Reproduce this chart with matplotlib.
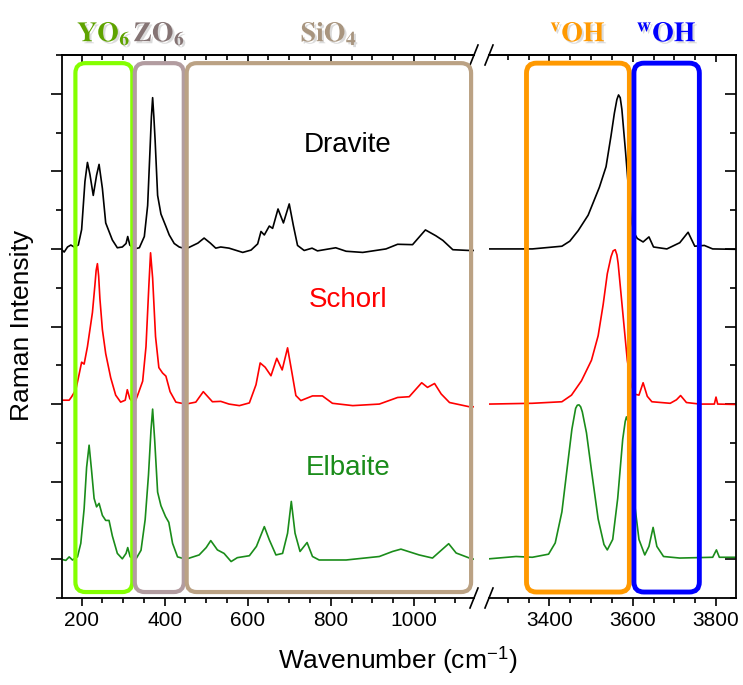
import numpy as np
import matplotlib
matplotlib.use('Agg')
import matplotlib.pyplot as plt
import matplotlib.patheffects as pe
from matplotlib.patches import FancyBboxPatch
from matplotlib.lines import Line2D
from matplotlib.ticker import MultipleLocator
import matplotlib.transforms as mtransforms

plt.rcParams['font.family'] = ['Liberation Sans', 'DejaVu Sans']
plt.rcParams['mathtext.fontset'] = 'stix'

# ---------------- datos ----------------
# Dravite (negro), rango bajo
drav_lo_x = [150, 158, 166, 174, 182, 192, 200, 208, 214, 220, 228, 236, 242, 250, 258, 266, 274, 286,
             298, 307, 311, 316, 327, 339, 351, 359, 365, 368, 371, 374, 377, 383, 391, 403, 411, 423,
             435, 451, 480, 495, 510, 523, 535, 555, 588, 608, 624, 632, 640, 652, 660, 673, 686, 700,
             710, 720, 736, 755, 768, 812, 837, 877, 933, 961, 997, 1028, 1053, 1070, 1094, 1134, 1145]
drav_lo_y = [9.0, 8.92, 9.05, 9.1, 9.05, 9.1, 9.5, 10.74, 11.23, 10.92, 10.38, 10.9, 11.18, 10.56, 9.67,
             9.45, 9.23, 9.03, 9.05, 9.14, 9.32, 9.1, 9.0, 9.03, 9.32, 10.12, 11.63, 12.4, 12.9, 12.4,
             11.8, 10.38, 9.9, 9.58, 9.36, 9.14, 9.05, 9.0, 9.15, 9.28, 9.15, 9.02, 9.05, 9.02, 8.91,
             8.97, 9.13, 9.45, 9.36, 9.59, 9.53, 10.03, 9.67, 10.16, 9.6, 9.09, 8.96, 9.02, 8.95, 9.03,
             8.94, 8.91, 9.0, 9.12, 9.11, 9.49, 9.34, 9.22, 8.98, 8.96, 8.96]
# Dravite, rango OH
drav_hi_x = [3255, 3359, 3430, 3449, 3469, 3493, 3520, 3536, 3548, 3556, 3562, 3566, 3570, 3574, 3578,
             3583, 3591, 3597, 3604, 3611, 3625, 3639, 3650, 3682, 3713, 3733, 3749, 3772, 3792, 3848]
drav_hi_y = [9.0, 9.0, 9.07, 9.2, 9.47, 9.87, 10.59, 11.12, 11.92, 12.5, 12.85, 12.97, 12.9, 12.6, 12.1,
             11.48, 10.41, 9.7, 9.4, 9.27, 9.18, 9.31, 9.05, 9.0, 9.16, 9.43, 9.07, 9.09, 9.0, 8.99]

# Schorl (rojo)
scho_lo_x = [150, 170, 176, 186, 194, 200, 206, 214, 226, 232, 235, 238, 241, 244, 250, 258, 270, 282,
             294, 305, 310, 316, 327, 335, 347, 355, 362, 366, 371, 378, 386, 395, 403, 413, 427, 451,
             475, 485, 493, 515, 535, 555, 580, 604, 620, 630, 642, 656, 670, 683, 696, 707, 716, 728,
             756, 780, 804, 853, 917, 961, 989, 1019, 1033, 1050, 1066, 1086, 1134, 1145]
scho_lo_y = [5.1, 5.1, 5.19, 5.37, 5.77, 6.08, 6.03, 6.48, 7.36, 8.07, 8.45, 8.62, 8.3, 7.72, 6.92, 6.3,
             5.68, 5.23, 5.05, 5.1, 5.37, 5.14, 5.01, 5.23, 5.59, 6.48, 8.07, 8.9, 8.25, 6.74, 5.94, 5.8,
             5.72, 5.32, 5.05, 5.0, 5.05, 5.2, 5.32, 5.06, 5.07, 5.0, 4.96, 5.03, 5.5, 6.06, 5.95, 5.73,
             6.18, 5.88, 6.45, 5.78, 5.22, 5.09, 5.21, 5.21, 5.02, 4.96, 5.0, 5.17, 5.19, 5.55, 5.43,
             5.53, 5.26, 5.04, 4.93, 4.93]
scho_hi_x = [3255, 3359, 3430, 3453, 3477, 3501, 3517, 3529, 3539, 3548, 3553, 3558, 3562, 3565, 3576,
             3587, 3597, 3607, 3615, 3625, 3635, 3646, 3690, 3705, 3715, 3729, 3761, 3796, 3800, 3804, 3848]
scho_hi_y = [5.0, 5.02, 5.06, 5.23, 5.6, 6.13, 6.76, 7.56, 8.36, 8.8, 8.95, 8.98, 8.85, 8.63, 7.38,
             6.13, 5.46, 5.25, 5.23, 5.55, 5.2, 5.06, 5.02, 5.11, 5.22, 5.04, 5.0, 5.0, 5.18, 5.0, 4.99]

# Elbaite (verde)
elba_lo_x = [150, 162, 170, 178, 190, 198, 206, 212, 218, 224, 230, 236, 242, 250, 258, 266, 274, 286,
             298, 307, 311, 317, 331, 343, 353, 361, 367, 371, 376, 383, 391, 402, 410, 419, 431, 451,
             483, 500, 511, 527, 543, 560, 575, 604, 621, 640, 652, 668, 684, 696, 705, 714, 726, 743,
             756, 772, 837, 917, 949, 969, 1013, 1045, 1084, 1102, 1134, 1145]
elba_lo_y = [1.0, 0.97, 1.06, 0.98, 1.06, 1.41, 2.3, 3.37, 3.94, 3.28, 2.57, 2.35, 2.44, 2.13, 2.0, 2.0,
             1.6, 1.15, 1.01, 1.15, 1.3, 1.06, 1.01, 1.23, 2.02, 3.17, 4.32, 4.87, 4.06, 2.73, 2.38, 2.1,
             1.95, 1.41, 1.06, 1.0, 1.11, 1.3, 1.48, 1.24, 1.15, 0.94, 1.04, 1.09, 1.33, 1.84, 1.5, 1.11,
             1.15, 1.67, 2.49, 1.67, 1.2, 1.43, 1.07, 0.98, 0.98, 1.07, 1.2, 1.26, 1.11, 1.03, 1.4, 1.16,
             1.03, 1.0]
elba_hi_x = [3255, 3320, 3359, 3398, 3414, 3430, 3442, 3454, 3463, 3467, 3471, 3475, 3479, 3489, 3501,
             3517, 3531, 3539, 3552, 3564, 3576, 3582, 3585, 3589, 3593, 3603, 3615, 3629, 3639, 3649,
             3658, 3674, 3713, 3792, 3801, 3808, 3848]
elba_hi_y = [1.01, 1.07, 1.05, 1.13, 1.42, 2.22, 3.29, 4.35, 4.89, 4.97, 4.98, 4.93, 4.8, 4.26, 3.29,
             2.04, 1.38, 1.24, 1.51, 2.57, 4.09, 4.55, 4.67, 4.55, 4.17, 2.57, 1.51, 1.11, 1.33, 1.82,
             1.33, 1.07, 1.03, 1.05, 1.24, 1.05, 1.05]

# regiones de asignacion (cm-1)
regiones = ['YO6', 'ZO6', 'SiO4', 'vOH', 'wOH']
reg_lim = [(185, 322), (328, 446), (453, 1138), (3345, 3592), (3603, 3760)]
reg_txt = [r'$\mathbf{YO_6}$', r'$\mathbf{ZO_6}$', r'$\mathbf{SiO_4}$',
           r'$^{\mathbf{v}}\mathbf{OH}$', r'$^{\mathbf{w}}\mathbf{OH}$']
reg_col = ['#84FF00', '#B29CA0', '#BBA284', '#FF9900', '#0000FF']
reg_txtcol = ['#5FA300', '#857474', '#A8957F', '#FF9900', '#0000FF']

nombres = ['Dravite', 'Schorl', 'Elbaite']
colores = ['black', '#FF0000', '#1A8C1A']
pos_nombre = [(841, 11.68), (841, 7.68), (841, 3.35)]

# ---------------- figura ----------------
W, H = 743, 685
fig = plt.figure(figsize=(W / 100, H / 100), dpi=100)
ax1 = fig.add_axes([61.7 / W, 87 / H, 412.3 / W, 543 / H])
ax2 = fig.add_axes([489 / W, 87 / H, 247 / W, 543 / H])

series = [(drav_lo_x, drav_lo_y, drav_hi_x, drav_hi_y),
          (scho_lo_x, scho_lo_y, scho_hi_x, scho_hi_y),
          (elba_lo_x, elba_lo_y, elba_hi_x, elba_hi_y)]
for (xl, yl, xh, yh), c in zip(series, colores):
    ax1.plot(xl, yl, color=c, lw=1.2)
    ax2.plot(xh, yh, color=c, lw=1.2)

ax1.set_xlim(152, 1145)
ax2.set_xlim(3255, 3848)
for ax in (ax1, ax2):
    ax.set_ylim(0, 14)
    ax.yaxis.set_major_locator(MultipleLocator(2, offset=1))
    ax.yaxis.set_minor_locator(MultipleLocator(1))
    ax.xaxis.set_minor_locator(MultipleLocator(50))
    ax.xaxis.set_major_locator(MultipleLocator(200))
    for s in ax.spines.values():
        s.set_linewidth(1.3)
    ax.tick_params(axis='x', which='both', direction='out', width=1.2, labelsize=15, pad=3)
    ax.tick_params(axis='x', which='major', length=6)
    ax.tick_params(axis='x', which='minor', length=3.5)
    top = ax.secondary_xaxis('top')
    top.xaxis.set_major_locator(MultipleLocator(200))
    top.xaxis.set_minor_locator(MultipleLocator(50))
    top.tick_params(axis='x', which='both', direction='in', width=1.2, labeltop=False)
    top.tick_params(axis='x', which='major', length=5)
    top.tick_params(axis='x', which='minor', length=3.5)
    top.spines['top'].set_linewidth(1.3)

ax1.spines['right'].set_visible(False)
ax2.spines['left'].set_visible(False)
ax1.tick_params(axis='y', which='both', direction='out', width=1.2, labelleft=False)
ax1.tick_params(axis='y', which='major', length=8)
ax1.tick_params(axis='y', which='minor', length=4.5)
ax2.yaxis.tick_right()
ax2.tick_params(axis='y', which='both', direction='in', width=1.2, labelright=False)
ax2.tick_params(axis='y', which='major', length=8)
ax2.tick_params(axis='y', which='minor', length=4.5)

for n, c, (px, py) in zip(nombres, colores, pos_nombre):
    ax1.text(px, py, n, color=c, fontsize=20, ha='center', va='center')

fig.text(22 / W, 1 - 325 / H, 'Raman Intensity', rotation=90, fontsize=19, ha='center', va='center')
fig.text(398 / W, 1 - 660 / H, r'Wavenumber (cm$^{\mathregular{-1}}$)', fontsize=19,
         ha='center', va='center')

# cajas redondeadas y etiquetas
ident = mtransforms.IdentityTransform()
sombra = [pe.withSimplePatchShadow(offset=(1.5, -1.5), shadow_rgbFace='#999999', alpha=0.35)]
for i, (x0, x1) in enumerate(reg_lim):
    ax = ax1 if x1 < 2000 else ax2
    tr = mtransforms.blended_transform_factory(ax.transData, ax.transAxes)
    p0 = tr.transform((x0, 0.011))
    p1 = tr.transform((x1, 0.985))
    lw = 3.0 if i < 3 else 3.5
    caja = FancyBboxPatch(p0, p1[0] - p0[0], p1[1] - p0[1],
                          boxstyle='round,pad=0,rounding_size=10', transform=ident,
                          fill=False, ec=reg_col[i], lw=lw, zorder=5)
    fig.add_artist(caja)
    ax.text((x0 + x1) / 2, 1.025, reg_txt[i], transform=tr, color=reg_txtcol[i], fontsize=20,
            ha='center', va='baseline', clip_on=False, path_effects=sombra)

# marcas del corte del eje
xa = ax1.get_window_extent().x1
xb = ax2.get_window_extent().x0
for yy in (ax1.get_window_extent().y0, ax1.get_window_extent().y1):
    for xx in (xa, xb):
        fig.add_artist(Line2D([xx - 4, xx + 4], [yy - 10, yy + 10], transform=ident,
                              color='black', lw=1.2))

fig.savefig('out.png', dpi=100)
